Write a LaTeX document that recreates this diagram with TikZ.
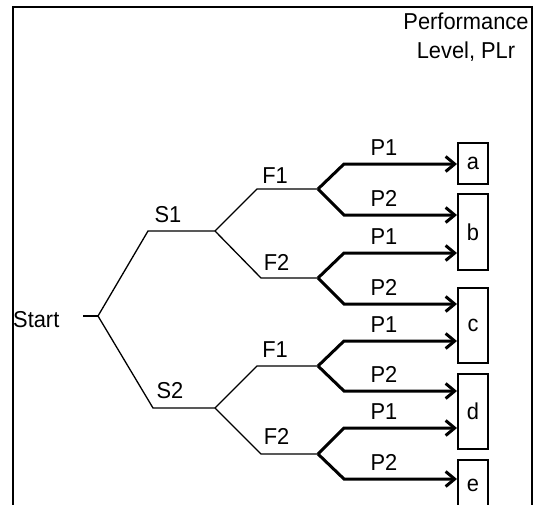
\documentclass[tikz,border=0pt]{standalone}
\usepackage{fontspec}
\setmainfont[FakeStretch=0.95]{Liberation Sans}
\usetikzlibrary{arrows.meta,calc}

\tikzset{
  txt/.style={anchor=base, inner sep=0pt, font=\fontsize{23}{29}\selectfont},
  thin line/.style={line width=1.3pt, line join=miter},
  path arrow/.style={line width=3pt, line join=miter,
    -{Straight Barb[length=9pt,width=15pt,line width=3pt]}},
  level box/.style={draw, line width=2pt, minimum width=30pt, inner sep=0pt,
    font=\fontsize{23}{26}\selectfont},
  frame/.style={draw, line width=2pt}
}

\begin{document}
\begin{tikzpicture}[x=1pt, y=-1pt]
  \useasboundingbox (0,0) rectangle (536,504);

  % outer frame (its lower edge lies below the page)
  \draw[frame] (13,7) rectangle (531.5,520);

  % header (base anchor sits on the last line)
  \node[txt, align=center] (plr) at (466,58) {Performance\\Level, PLr};

  % branch points
  \coordinate (st0) at (83,316);
  \coordinate (root) at (98,316);
  \coordinate (s1c) at (148,231);  \coordinate (s1) at (215,231);
  \coordinate (s2c) at (153,408);  \coordinate (s2) at (215,408);
  \coordinate (f11c) at (257,189); \coordinate (f11) at (318,189);
  \coordinate (f12c) at (261,278); \coordinate (f12) at (318,278);
  \coordinate (f21c) at (257,366); \coordinate (f21) at (318,366);
  \coordinate (f22c) at (261,454); \coordinate (f22) at (318,454);

  \coordinate (p111) at (344,164); \coordinate (p112) at (344,215);
  \coordinate (p121) at (344,253); \coordinate (p122) at (344,304);
  \coordinate (p211) at (344,341); \coordinate (p212) at (344,391);
  \coordinate (p221) at (344,428); \coordinate (p222) at (344,479);

  % performance level boxes
  \node[level box, minimum height=41pt] (a) at (473,163.5) {a};
  \node[level box, minimum height=76pt] (b) at (473,232) {b};
  \node[level box, minimum height=75pt] (c) at (473,325.5) {c};
  \node[level box, minimum height=75pt] (d) at (473,411.5) {d};
  \node[level box, minimum height=61pt] (e) at (473,490) {\raisebox{9pt}{e}};

  % start
  \node[txt, anchor=base west] (start) at (13,327) {Start};
  \draw[thin line] (st0) -- (root);

  % severity branches
  \draw[thin line] (root) -- (s1c) -- (s1);
  \draw[thin line] (root) -- (s2c) -- (s2);
  \node[txt] (ls1) at (168,222) {S1};
  \node[txt] (ls2) at (170,398) {S2};

  % frequency branches
  \draw[thin line] (s1) -- (f11c) -- (f11);
  \draw[thin line] (s1) -- (f12c) -- (f12);
  \draw[thin line] (s2) -- (f21c) -- (f21);
  \draw[thin line] (s2) -- (f22c) -- (f22);
  \node[txt] (lf11) at (275,183) {F1};
  \node[txt] (lf12) at (276.5,270) {F2};
  \node[txt] (lf21) at (275,357) {F1};
  \node[txt] (lf22) at (276.5,444) {F2};

  % possibility of avoidance
  \draw[path arrow] (f11) -- (p111) -- (a.west |- p111);
  \draw[path arrow] (f11) -- (p112) -- (b.west |- p112);
  \draw[path arrow] (f12) -- (p121) -- (b.west |- p121);
  \draw[path arrow] (f12) -- (p122) -- (c.west |- p122);
  \draw[path arrow] (f21) -- (p211) -- (c.west |- p211);
  \draw[path arrow] (f21) -- (p212) -- (d.west |- p212);
  \draw[path arrow] (f22) -- (p221) -- (d.west |- p221);
  \draw[path arrow] (f22) -- (p222) -- (e.west |- p222);

  \node[txt] (lp111) at ($(p111)+(40,-8.5)$) {P1};
  \node[txt] (lp112) at ($(p112)+(40,-8.5)$) {P2};
  \node[txt] (lp121) at ($(p121)+(40,-8.5)$) {P1};
  \node[txt] (lp122) at ($(p122)+(40,-8.5)$) {P2};
  \node[txt] (lp211) at ($(p211)+(40,-8.5)$) {P1};
  \node[txt] (lp212) at ($(p212)+(40,-8.5)$) {P2};
  \node[txt] (lp221) at ($(p221)+(40,-8.5)$) {P1};
  \node[txt] (lp222) at ($(p222)+(40,-8.5)$) {P2};
\end{tikzpicture}
\end{document}
